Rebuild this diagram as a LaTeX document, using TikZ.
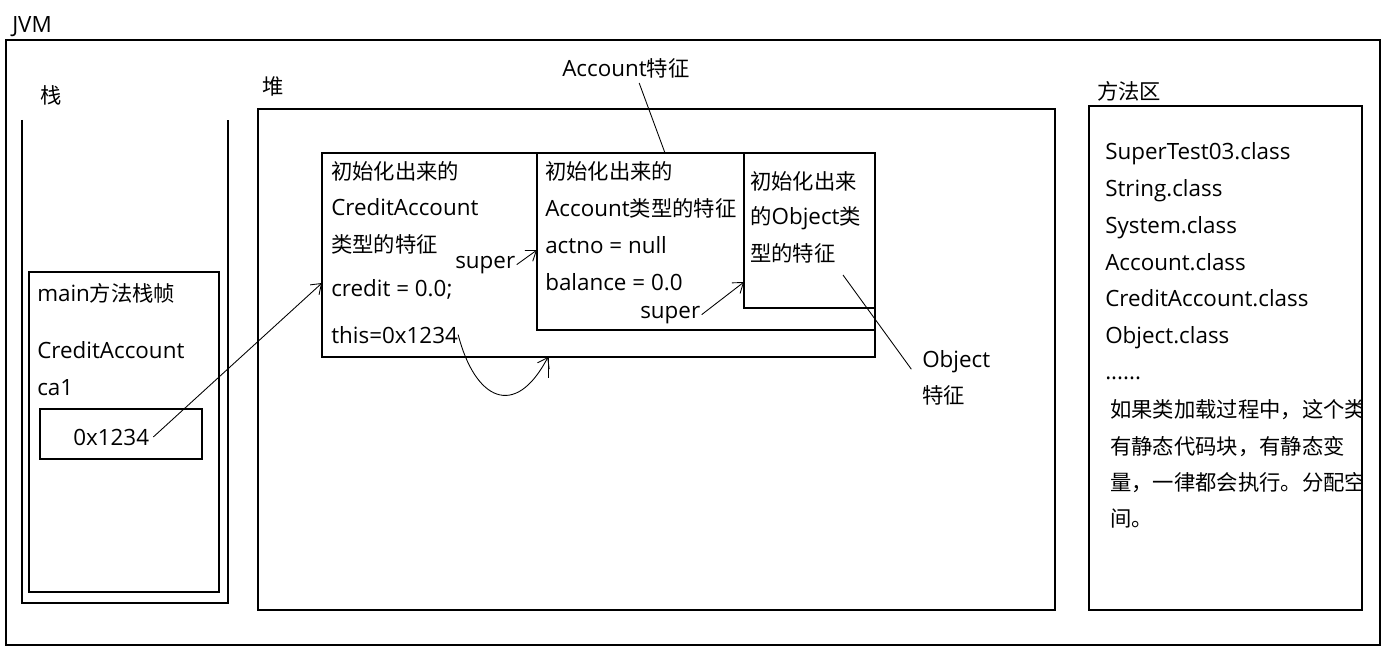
\documentclass[tikz,border=0pt]{standalone}
\usepackage{fontspec}
\setmainfont{Open Sans}
\newfontfamily\cjkfam{Noto Sans CJK SC}
\newcommand{\cjk}{\cjkfam\fontsize{16}{19}\selectfont}
\usetikzlibrary{arrows.meta}
\begin{document}
\begin{tikzpicture}[x=0.75pt,y=-0.75pt,
  box/.style={draw=black,line width=1.15pt},
  lbl/.style={anchor=base west,inner sep=0pt,font=\fontsize{16.8}{19}\selectfont},
  ptr/.style={line width=0.65pt,-{Straight Barb[length=7pt,width=10pt]}},
  thinline/.style={line width=0.65pt}]
\useasboundingbox (0,0) rectangle (1387,649);
\fill[white] (0,0) rectangle (1387,649);

% boxes
\draw[box] (6,40) rectangle (1380,645);
\draw[box] (22,120) -- (22,603) -- (228,603) -- (228,120);
\draw[box] (29,272) rectangle (219,592);
\draw[box] (40,409) rectangle (202,459);
\draw[box] (258,109) rectangle (1055,610);
\draw[box] (322,153) rectangle (875,357);
\draw[box] (537,153) rectangle (875,330);
\draw[box] (744,153) rectangle (875,308);
\draw[box] (1089,106) rectangle (1362,610);

% labels
\node[lbl] (jvm) at (12,33) {JVM};
\node[lbl] (stk) at (40,104) {\cjk 栈};
\node[lbl] (heap) at (262,95) {\cjk 堆};
\node[lbl] (acctlbl) at (562,77) {Account{\cjk 特征}};
\node[lbl] (mth) at (1097,100) {\cjk 方法区};

% stack frame
\node[lbl] (frame) at (37,301) {main{\cjk 方法栈帧}};
\node[lbl] (ctype) at (37,358) {CreditAccount};
\node[lbl] (ca) at (37,395) {ca1};
\node[lbl] (addr) at (73,445) {0x1234};

% credit account part
\node[lbl] (c1) at (331,179) {\cjk 初始化出来的};
\node[lbl] (c2) at (331,215) {CreditAccount};
\node[lbl] (c3) at (331,252) {\cjk 类型的特征};
\node[lbl] (c4) at (331,296) {credit = 0.0;};
\node[lbl] (this) at (331,343) {this=0x1234};
\node[lbl] (sup1) at (455,268) {super};

% account part
\node[lbl] (a1) at (545,179) {\cjk 初始化出来的};
\node[lbl] (a2) at (545,216) {Account{\cjk 类型的特征}};
\node[lbl] (a3) at (545,253) {actno = null};
\node[lbl] (a4) at (545,290) {balance = 0.0};
\node[lbl] (sup2) at (640,318) {super};

% object part
\node[lbl] (o1) at (750,189) {\cjk 初始化出来};
\node[lbl] (o2) at (750,224) {{\cjk 的}Object{\cjk 类}};
\node[lbl] (o3) at (750,261) {\cjk 型的特征};
\node[lbl] (objlbl) at (922,367) {Object};
\node[lbl] (objlbl2) at (922,403) {\cjk 特征};

% method area
\node[lbl] (m1) at (1105,160) {SuperTest03.class};
\node[lbl] (m2) at (1105,196) {String.class};
\node[lbl] (m3) at (1105,233) {System.class};
\node[lbl] (m4) at (1105,270) {Account.class};
\node[lbl] (m5) at (1105,306) {CreditAccount.class};
\node[lbl] (m6) at (1105,343) {Object.class};
\node[lbl] (m7) at (1105,379) {......};
\begin{scope}
\clip (1089,106) rectangle (1362,610);
\node[lbl] (p1) at (1110,417) {\cjk 如果类加载过程中，这个类};
\node[lbl] (p2) at (1110,454) {\cjk 有静态代码块，有静态变};
\node[lbl] (p3) at (1110,490) {\cjk 量，一律都会执行。分配空};
\node[lbl] (p4) at (1110,526) {\cjk 间。};
\end{scope}

% connector end points
\coordinate (credIn) at (322,283);
\coordinate (acctIn) at (537,250);
\coordinate (objIn) at (744,282);
\coordinate (acctTop) at (665,153);
\coordinate (objFrom) at (843,275);
\coordinate (thisTgt) at (548,357);
\coordinate (stubEnd) at (548,378);

% connectors
\draw[ptr] ([xshift=3pt]addr.east) -- (credIn);
\draw[ptr] ([xshift=1pt]sup1.east) -- (acctIn);
\draw[ptr] ([xshift=1pt]sup2.east) -- (objIn);
\draw[thinline] ([xshift=10pt,yshift=-3pt]acctlbl.south) -- (acctTop);
\draw[thinline] (objFrom) -- ([xshift=-8pt,yshift=-6pt]objlbl.west);
\draw[ptr] (this.east) .. controls (475,400) and (515,420) .. (thisTgt);
\draw[thinline] (thisTgt) -- (stubEnd);
\end{tikzpicture}
\end{document}
